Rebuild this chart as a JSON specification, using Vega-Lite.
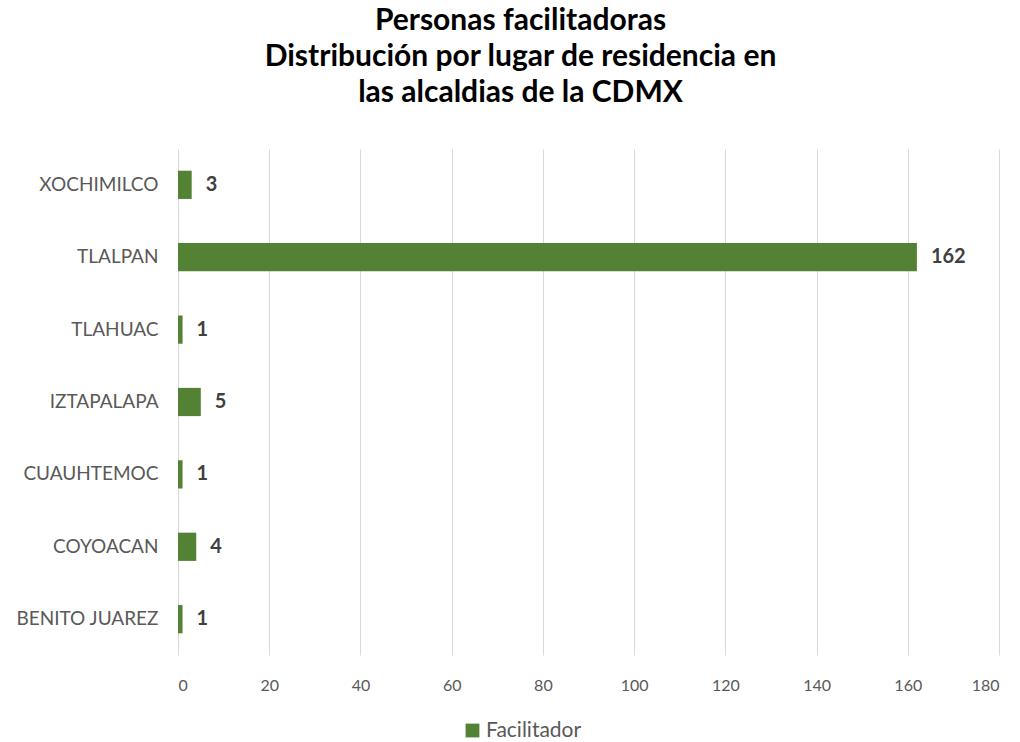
{
  "$schema": "https://vega.github.io/schema/vega-lite/v6.json",
  "autosize": "none",
  "width": 821,
  "height": 506,
  "padding": {"left": 178, "top": 149, "right": 21, "bottom": 87},
  "background": "white",
  "config": {"view": {"stroke": null}},
  "title": {
    "text": ["Personas facilitadoras", "Distribución por lugar de residencia en", "las alcaldias de la CDMX"],
    "font": "Lato",
    "fontSize": 30,
    "fontWeight": "bold",
    "color": "#000000",
    "lineHeight": 36,
    "anchor": "middle",
    "dx": -68,
    "offset": 41
  },
  "data": {
    "values": [
      {"alcaldia": "XOCHIMILCO", "valor": 3, "serie": "Facilitador"},
      {"alcaldia": "TLALPAN", "valor": 162, "serie": "Facilitador"},
      {"alcaldia": "TLAHUAC", "valor": 1, "serie": "Facilitador"},
      {"alcaldia": "IZTAPALAPA", "valor": 5, "serie": "Facilitador"},
      {"alcaldia": "CUAUHTEMOC", "valor": 1, "serie": "Facilitador"},
      {"alcaldia": "COYOACAN", "valor": 4, "serie": "Facilitador"},
      {"alcaldia": "BENITO JUAREZ", "valor": 1, "serie": "Facilitador"}
    ]
  },
  "encoding": {
    "y": {
      "field": "alcaldia",
      "type": "nominal",
      "sort": ["XOCHIMILCO", "TLALPAN", "TLAHUAC", "IZTAPALAPA", "CUAUHTEMOC", "COYOACAN", "BENITO JUAREZ"],
      "scale": {"paddingInner": 0.61, "paddingOuter": 0.3},
      "axis": {
        "title": null,
        "domain": false,
        "ticks": false,
        "labelFont": "Lato",
        "labelFontSize": 19,
        "labelColor": "#595959",
        "labelPadding": 20
      }
    },
    "x": {
      "field": "valor",
      "type": "quantitative",
      "scale": {"domain": [0, 180], "nice": false},
      "axis": {
        "title": null,
        "values": [0, 20, 40, 60, 80, 100, 120, 140, 160, 180],
        "domain": false,
        "ticks": false,
        "grid": true,
        "gridColor": "#d9d9d9",
        "gridWidth": 1,
        "labelFont": "Lato",
        "labelFontSize": 16,
        "labelColor": "#595959",
        "labelPadding": 22
      }
    }
  },
  "layer": [
    {
      "mark": {"type": "bar", "color": "#548235"},
      "encoding": {
        "color": {
          "field": "serie",
          "type": "nominal",
          "scale": {"range": ["#548235"]},
          "legend": {
            "title": null,
            "orient": "none",
            "legendX": 284,
            "legendY": 571,
            "symbolType": "square",
            "symbolSize": 190,
            "symbolStrokeWidth": 0,
            "labelFont": "Lato",
            "labelFontSize": 21,
            "labelColor": "#595959",
            "labelOffset": 3
          }
        }
      }
    },
    {
      "mark": {"type": "text", "align": "left", "baseline": "middle", "dx": 14, "font": "Lato", "fontSize": 20, "fontWeight": "bold", "color": "#404040"},
      "encoding": {"text": {"field": "valor", "type": "quantitative"}}
    }
  ]
}
